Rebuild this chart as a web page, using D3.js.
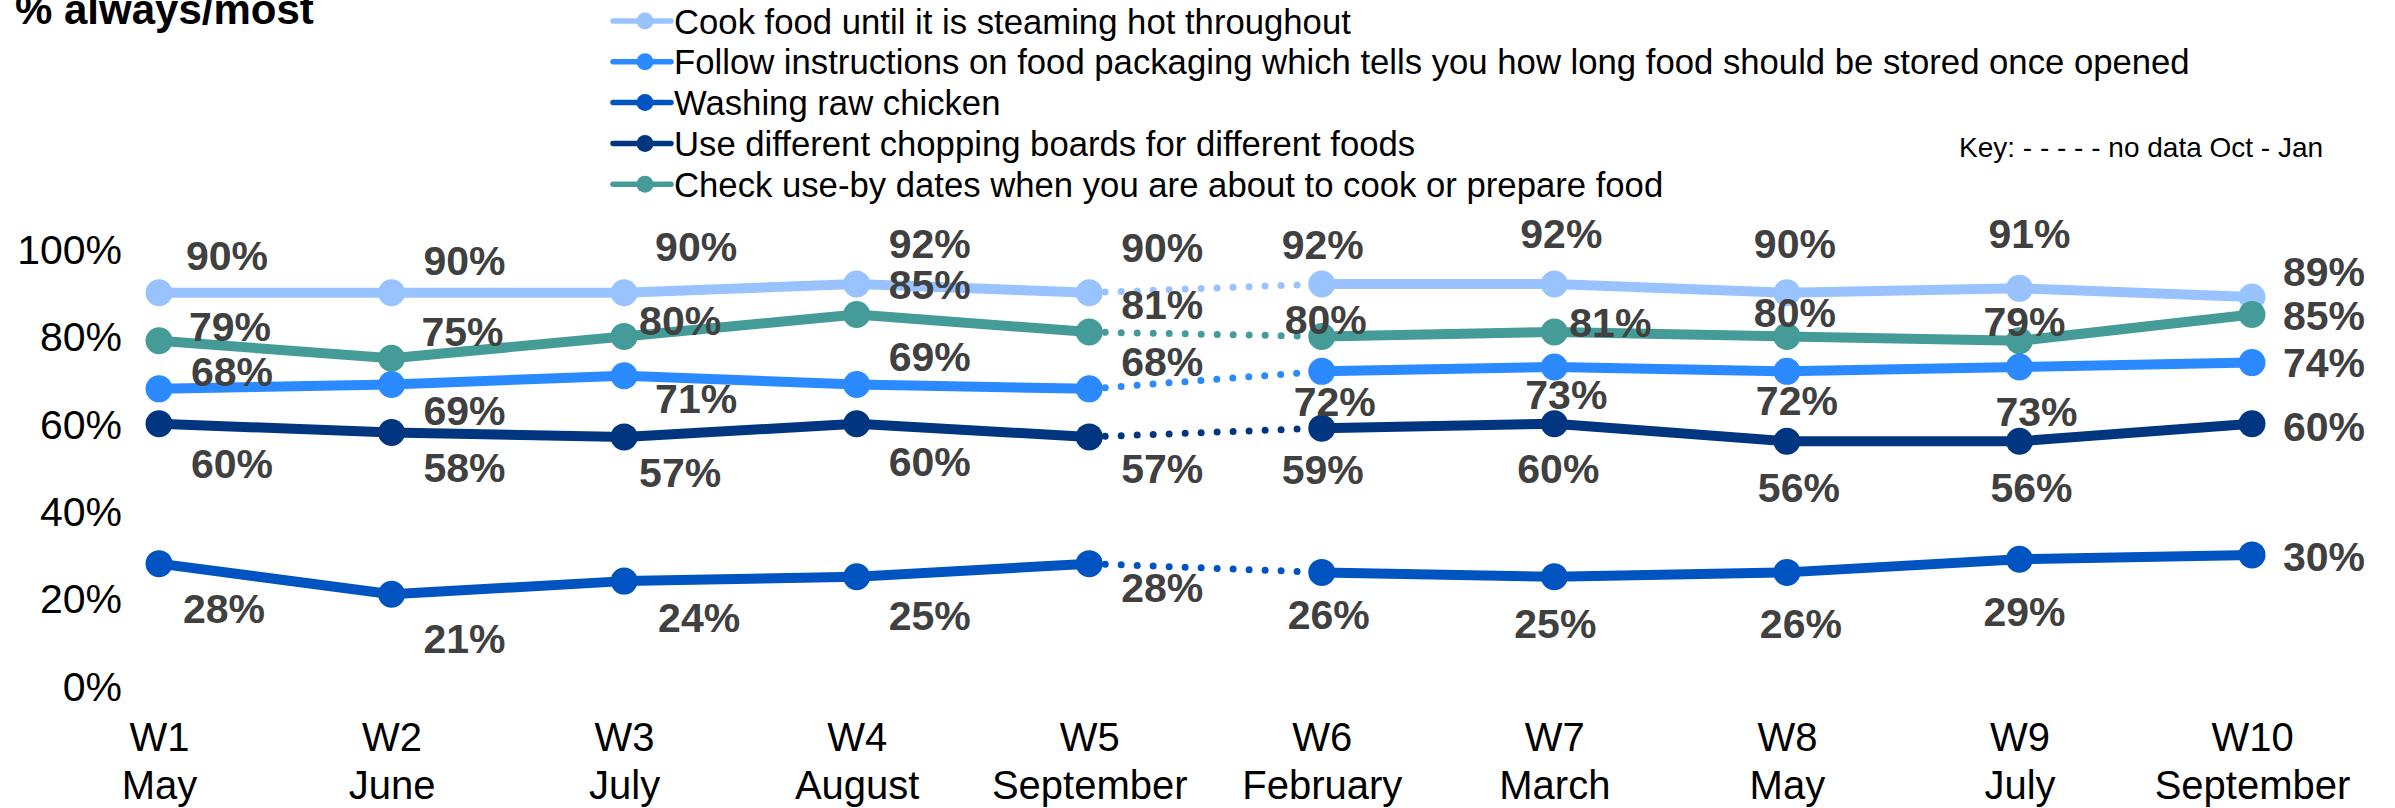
<!DOCTYPE html>
<html>
<head>
<meta charset="utf-8">
<script src="https://cdn.jsdelivr.net/npm/d3@7"></script>
<style>
  html, body { margin: 0; padding: 0; background: #fff; }
  svg { display: block; font-family: Arial, "Liberation Sans", sans-serif; }
</style>
</head>
<body>
<div id="chart"></div>
<script>
// waves and fieldwork months
var waves = ['W1', 'W2', 'W3', 'W4', 'W5', 'W6', 'W7', 'W8', 'W9', 'W10'];
var months = ['May', 'June', 'July', 'August', 'September', 'February', 'March', 'May', 'July', 'September'];
var yTicks = [0, 20, 40, 60, 80, 100];

// % always/most per behaviour
var cookHot = [90, 90, 90, 92, 90, 92, 92, 90, 91, 89];
var followPack = [68, 69, 71, 69, 68, 72, 73, 72, 73, 74];
var washChicken = [28, 21, 24, 25, 28, 26, 25, 26, 29, 30];
var chopBoards = [60, 58, 57, 60, 57, 59, 60, 56, 56, 60];
var useBy = [79, 75, 80, 85, 81, 80, 81, 80, 79, 85];

var seriesNames = [
  'Cook food until it is steaming hot throughout',
  'Follow instructions on food packaging which tells you how long food should be stored once opened',
  'Washing raw chicken',
  'Use different chopping boards for different foods',
  'Check use-by dates when you are about to cook or prepare food'
];
var seriesValues = [cookHot, followPack, washChicken, chopBoards, useBy];
var seriesColors = ['#99C3FF', '#2B8AFF', '#0054C2', '#00367F', '#449B97'];

// label nudges (px from the point) — hand placed in the original
var labelDx = [
  [68, 73, 72, 73, 73, 1, 7, 8, 10, 72],
  [73, 73, 72, 73, 73, 13, 12, 10, 17, 72],
  [65, 73, 75, 73, 73, 7, 1, 14, 5, 72],
  [73, 73, 56, 73, 73, 1, 4, 12, 12, 72],
  [71, 71, 56, 73, 73, 4, 56, 8, 5, 72]
];
var labelDy = [
  [-37, -32, -46, -41, -45, -40, -51, -49, -55, -26],
  [-18, 26, 23, -28, -28, 30, 27, 29, 44, 0],
  [45, 44, 36, 38, 24, 42, 46, 51, 52, 1],
  [39, 35, 35, 37, 31, 41, 44, 46, 46, 2],
  [-15, -27, -16, -30, -28, -17, -10, -24, -20, 1]
];
var gapAfter = 4; // no data between W5 and W6

var width = 2395, height = 808;
var svg = d3.select('#chart').append('svg').attr('width', width).attr('height', height);

var x = d3.scalePoint().domain(waves).range([159, 2252]);
var y = d3.scaleLinear().domain([0, 100]).range([686, 249]);

// title
svg.append('text').attr('x', 15).attr('y', 24)
  .attr('font-size', 42).attr('font-weight', 'bold').attr('fill', '#000')
  .text('% always/most');

// y axis labels (no axis line)
var yAxis = d3.axisLeft(y).tickValues(yTicks).tickSize(0).tickPadding(0)
  .tickFormat(function(d) { return d + '%'; });
var yg = svg.append('g').attr('transform', 'translate(122,0)').call(yAxis);
yg.select('.domain').remove();
yg.selectAll('text').attr('font-size', 41).attr('font-family', null).attr('fill', '#000').attr('dy', '0.35em');

// x axis labels, two lines
var xAxis = d3.axisBottom(x).tickSize(0).tickFormat(function() { return ''; });
var xg = svg.append('g').call(xAxis);
xg.select('.domain').remove();
xg.selectAll('.tick text').remove();
xg.selectAll('.tick').each(function(d, i) {
  var t = d3.select(this).append('text').attr('text-anchor', 'middle')
    .attr('font-size', 40).attr('fill', '#000');
  t.append('tspan').attr('x', 0).attr('y', 751).text(waves[i]);
  t.append('tspan').attr('x', 0).attr('y', 799).text(months[i]);
});

// lines
var line = d3.line()
  .x(function(d) { return x(waves[d.i]); })
  .y(function(d) { return y(d.v); });

var drawOrder = [0, 4, 1, 3, 2];
drawOrder.forEach(function(s) {
  var pts = seriesValues[s].map(function(v, i) { return { i: i, v: v }; });
  var g = svg.append('g');
  g.append('path').datum(pts.slice(0, gapAfter + 1)).attr('d', line)
    .attr('fill', 'none').attr('stroke', seriesColors[s]).attr('stroke-width', 10).attr('stroke-linejoin', 'round');
  g.append('path').datum(pts.slice(gapAfter + 1)).attr('d', line)
    .attr('fill', 'none').attr('stroke', seriesColors[s]).attr('stroke-width', 10).attr('stroke-linejoin', 'round');
  g.append('path').datum(pts.slice(gapAfter, gapAfter + 2)).attr('d', line)
    .attr('fill', 'none').attr('stroke', seriesColors[s]).attr('stroke-width', 7)
    .attr('stroke-linecap', 'round').attr('stroke-dasharray', '0,16');
  g.selectAll('circle').data(pts).join('circle')
    .attr('cx', function(d) { return x(waves[d.i]); })
    .attr('cy', function(d) { return y(d.v); })
    .attr('r', 13.5).attr('fill', seriesColors[s]);
});

// data labels
seriesValues.forEach(function(vals, s) {
  svg.append('g').selectAll('text').data(vals).join('text')
    .attr('x', function(d, i) { return x(waves[i]) + labelDx[s][i]; })
    .attr('y', function(d, i) { return y(d) + labelDy[s][i]; })
    .attr('dy', '0.36em')
    .attr('text-anchor', 'middle')
    .attr('font-size', 41).attr('font-weight', 'bold').attr('fill', '#404040')
    .text(function(d) { return d + '%'; });
});

// legend
var legend = svg.append('g').attr('transform', 'translate(613,21)');
seriesNames.forEach(function(name, s) {
  var row = legend.append('g').attr('transform', 'translate(0,' + (s * 40.8) + ')');
  row.append('line').attr('x1', 0).attr('x2', 58).attr('y1', 0).attr('y2', 0)
    .attr('stroke', seriesColors[s]).attr('stroke-width', 5.5).attr('stroke-linecap', 'round');
  row.append('circle').attr('cx', 32).attr('cy', 0).attr('r', 8.5).attr('fill', seriesColors[s]);
  row.append('text').attr('x', 61).attr('y', 0).attr('dy', '0.36em')
    .attr('font-size', 34.7).attr('fill', '#000').text(name);
});

// key note
svg.append('text').attr('x', 1959).attr('y', 147).attr('dy', '0.36em')
  .attr('font-size', 28).attr('fill', '#000')
  .text('Key: - - - - - no data Oct - Jan');
</script>
</body>
</html>
